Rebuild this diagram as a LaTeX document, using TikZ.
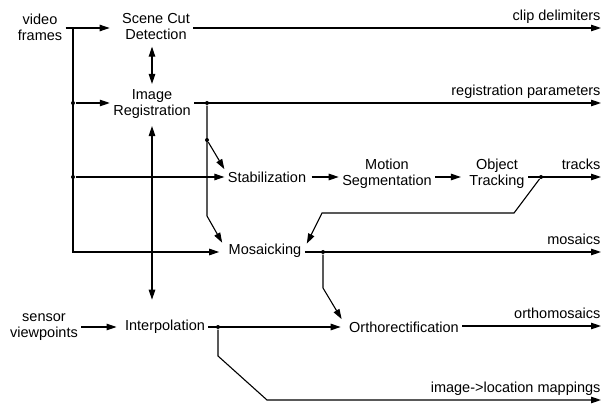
\documentclass[tikz,border=0pt]{standalone}
\usepackage{fontspec}
\setmainfont{Liberation Sans}
\usetikzlibrary{arrows.meta}
\begin{document}
\begin{tikzpicture}[x=1pt, y=-1pt, line width=1.1pt,
        blk/.style={align=center, inner sep=3pt, font=\fontsize{14.5}{16}\selectfont},
        outlbl/.style={anchor=base east, inner sep=0pt, yshift=7.5pt, font=\fontsize{14.5}{16}\selectfont},
        flow/.style={-{Triangle[length=10pt,width=6.5pt]}},
        dflow/.style={{Triangle[length=10pt,width=6.5pt]}-{Triangle[length=10pt,width=6.5pt]}},
        dot/.style={circle, fill, inner sep=0pt, minimum size=4pt}]
    \useasboundingbox (0,0) rectangle (608,406);

    % blocks
    \node[blk] (frames) at (40,27) {video\\frames};
    \node[blk] (scd) at (156,27) {Scene Cut\\Detection};
    \node[blk] (reg) at (152,104) {Image\\Registration};
    \node[blk] (stab) at (267,177) {Stabilization};
    \node[blk] (motion) at (387,174) {Motion\\Segmentation};
    \node[blk] (track) at (497,174) {Object\\Tracking};
    \node[blk] (mos) at (265,251) {Mosaicking};
    \node[blk] (sensor) at (44,327) {sensor\\viewpoints};
    \node[blk] (interp) at (165,327) {Interpolation};
    \node[blk] (ortho) at (404,327) {Orthorectification};

    % outputs
    \coordinate (clipE) at (601,28);
    \coordinate (regE) at (601,103);
    \coordinate (trackE) at (601,177);
    \coordinate (mosE) at (601,252);
    \coordinate (orthoE) at (601,326);
    \coordinate (mapE) at (601,400);
    \node[outlbl] at (clipE) {clip delimiters};
    \node[outlbl] at (regE) {registration parameters};
    \node[outlbl] at (trackE) {tracks};
    \node[outlbl] at (mosE) {mosaics};
    \node[outlbl] at (orthoE) {orthomosaics};
    \node[outlbl] at (mapE) {image->location mappings};

    % branch points
    \coordinate (trunk) at (73,28);
    \node[dot] (j1) at (73,103) {};
    \node[dot] (j2) at (73,177) {};
    \node[dot] (j3) at (207,103) {};
    \node[dot] (j4) at (207,140) {};
    \node[dot] (j5) at (541,177) {};
    \node[dot] (j6) at (323,252) {};
    \node[dot] (j7) at (218,327) {};
    \coordinate (k1) at (207,216);
    \coordinate (k2) at (514,213);
    \coordinate (k3) at (322,213);
    \coordinate (k4) at (323,288);
    \coordinate (k5) at (218,356);
    \coordinate (k6) at (267,400);

    % top rows
    \draw[flow, shorten >=9pt] (frames.east |- trunk) -- (scd.west |- trunk);
    \draw[flow] (scd.east |- clipE) -- (clipE);
    \draw[dflow, shorten <=3pt, shorten >=2pt] (reg.north |- scd.south) -- (reg.north);
    \draw[flow] (trunk) |- ([xshift=-6pt]mos.west |- mosE);
    \draw[flow] (j1) -- (reg.west |- j1);
    \draw[flow] (reg.east |- regE) -- (regE);
    \draw[flow] (j2) -- (stab.west);
    \draw[flow] (j4) -- ([yshift=-1pt]stab.north west);
    \draw[flow] (j3) -- (k1) -- ([shift={(-3pt,-2pt)}]mos.north west);
    \draw[dflow, shorten <=4pt, shorten >=17pt] (reg.south) -- (reg.south |- interp.north);

    % tracking chain
    \draw[flow, shorten <=2pt] (stab.east) -- (stab.east -| motion.west);
    \draw[flow, shorten >=5pt] (motion.east |- trackE) -- (track.west |- trackE);
    \draw[flow] (track.east |- trackE) -- (trackE);
    \draw[flow] (j5) -- (k2) -- (k3) -- ([shift={(2pt,-3pt)}]mos.north east);

    % mosaics and ortho
    \draw[flow] (mos.east |- mosE) -- (mosE);
    \draw[flow] (j6) -- (k4) -- ([shift={(-4pt,-1pt)}]ortho.north west);
    \draw[flow, shorten >=5pt] (sensor.east |- interp) -- (interp.west);
    \draw[flow, shorten >=5pt] (interp.east) -- (ortho.west);
    \draw[flow] (ortho.east |- orthoE) -- (orthoE);
    \draw[flow] (j7) -- (k5) -- (k6) -- (mapE);
\end{tikzpicture}
\end{document}
